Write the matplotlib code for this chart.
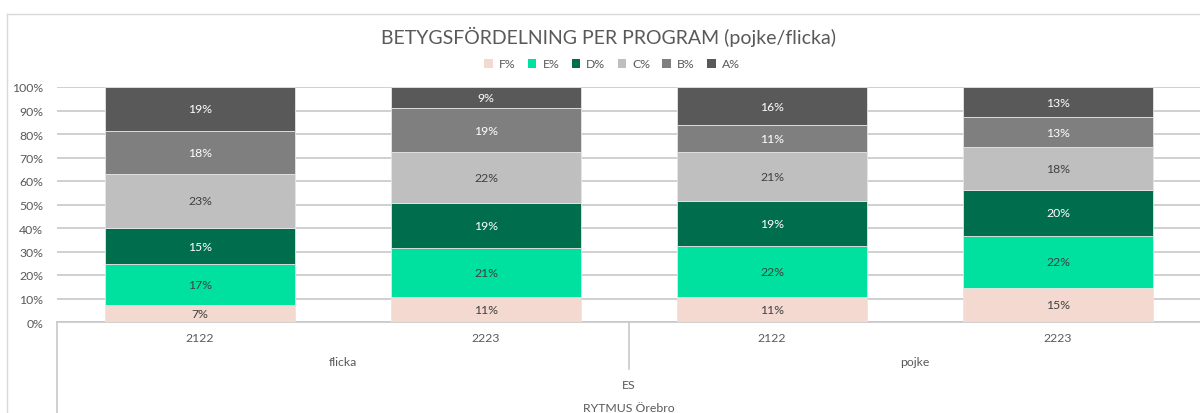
import matplotlib.pyplot as plt
from matplotlib.lines import Line2D
from matplotlib.patches import Patch
import numpy as np

plt.rcParams['font.family'] = ['Lato', 'DejaVu Sans']

years = ['2122', '2223', '2122', '2223']
genders = ['flicka', 'pojke']
program = 'ES'
school = 'RYTMUS Örebro'

grades = ['F%', 'E%', 'D%', 'C%', 'B%', 'A%']
F = [7.2, 10.6, 10.6, 14.6]
E = [17.4, 20.9, 21.7, 22.0]
D = [15.4, 19.1, 19.2, 19.6]
C = [23.0, 21.7, 20.8, 18.3]
B = [18.3, 18.7, 11.4, 12.6]
A = [18.7, 9.0, 16.3, 12.9]
series = [F, E, D, C, B, A]

colors = ['#F4D9D0', '#00E09E', '#006D4C', '#BFBFBF', '#7F7F7F', '#595959']
label_colors = ['#404040', '#404040', 'white', '#404040', 'white', 'white']
txt = '#595959'
grid = '#C8C8C8'

W, H = 1200, 414
fig = plt.figure(figsize=(W / 100, H / 100), dpi=100)

def fx(px):
    return px / W

def fy(py):
    return 1 - py / H

# chart frame (cut off at right and bottom)
fig.add_artist(Line2D([fx(7), fx(7)], [fy(15), 0], color='#D9D9D9', lw=1))
fig.add_artist(Line2D([fx(7), 1], [fy(15), fy(15)], color='#D9D9D9', lw=1))

ax = fig.add_axes([fx(57), fy(323), fx(1201) - fx(57), fy(88) - fy(323)])
x = np.arange(len(years))
bottom = np.zeros(len(years))
for vals, name, col, lc in zip(series, grades, colors, label_colors):
    vals = np.array(vals)
    ax.bar(x, vals, 0.664, bottom=bottom, color=col, edgecolor='#E6E6E6',
           linewidth=0.6, label=name, zorder=3)
    for xi, b, v in zip(x, bottom, vals):
        ax.text(xi, b + v / 2, f'{v:.0f}%', ha='center', va='center',
                color=lc, fontsize=8.8, zorder=4)
    bottom += vals

ax.set_xlim(-0.5, 3.5)
ax.set_ylim(0, 100)
ax.set_yticks(range(0, 101, 10))
ax.set_yticklabels([f'{t}%' for t in range(0, 101, 10)], color=txt, fontsize=8.8)
ax.tick_params(axis='y', length=0, pad=10)
ax.set_xticks([])
ax.yaxis.grid(True, color=grid, lw=1.2, zorder=0)
for s in ['left', 'right', 'top']:
    ax.spines[s].set_visible(False)
ax.spines['bottom'].set_color(grid)
ax.spines['bottom'].set_linewidth(1.2)

# multi-level category axis
fig.add_artist(Line2D([fx(57), fx(57)], [fy(323), 0], color=grid, lw=1.2))
fig.add_artist(Line2D([fx(629), fx(629)], [fy(323), fy(370)], color=grid, lw=1.2))
for xi, yr in zip(x, years):
    cx = fx(57 + (xi + 0.5) * 286)
    fig.text(cx, fy(339), yr, ha='center', va='center', color=txt, fontsize=8.8)
for gi, g in enumerate(genders):
    cx = fx(57 + (gi + 0.5) * 572)
    fig.text(cx, fy(363), g, ha='center', va='center', color=txt, fontsize=8.8)
fig.text(fx(629), fy(386), program, ha='center', va='center', color=txt, fontsize=8.8)
fig.text(fx(629), fy(409), school, ha='center', va='center', color=txt, fontsize=8.8)

fig.text(fx(609), fy(37), 'BETYGSFÖRDELNING PER PROGRAM (pojke/flicka)',
         ha='center', va='center', color=txt, fontsize=14)

handles = [Patch(facecolor=c, edgecolor='none') for c in colors]
fig.legend(handles, grades, loc='center', bbox_to_anchor=(fx(612), fy(65)),
           ncol=6, frameon=False, fontsize=8.8, labelcolor=txt,
           handlelength=0.7, handleheight=0.7, handletextpad=0.5, columnspacing=1.0)

fig.savefig('out.png', dpi=100, facecolor='white')
